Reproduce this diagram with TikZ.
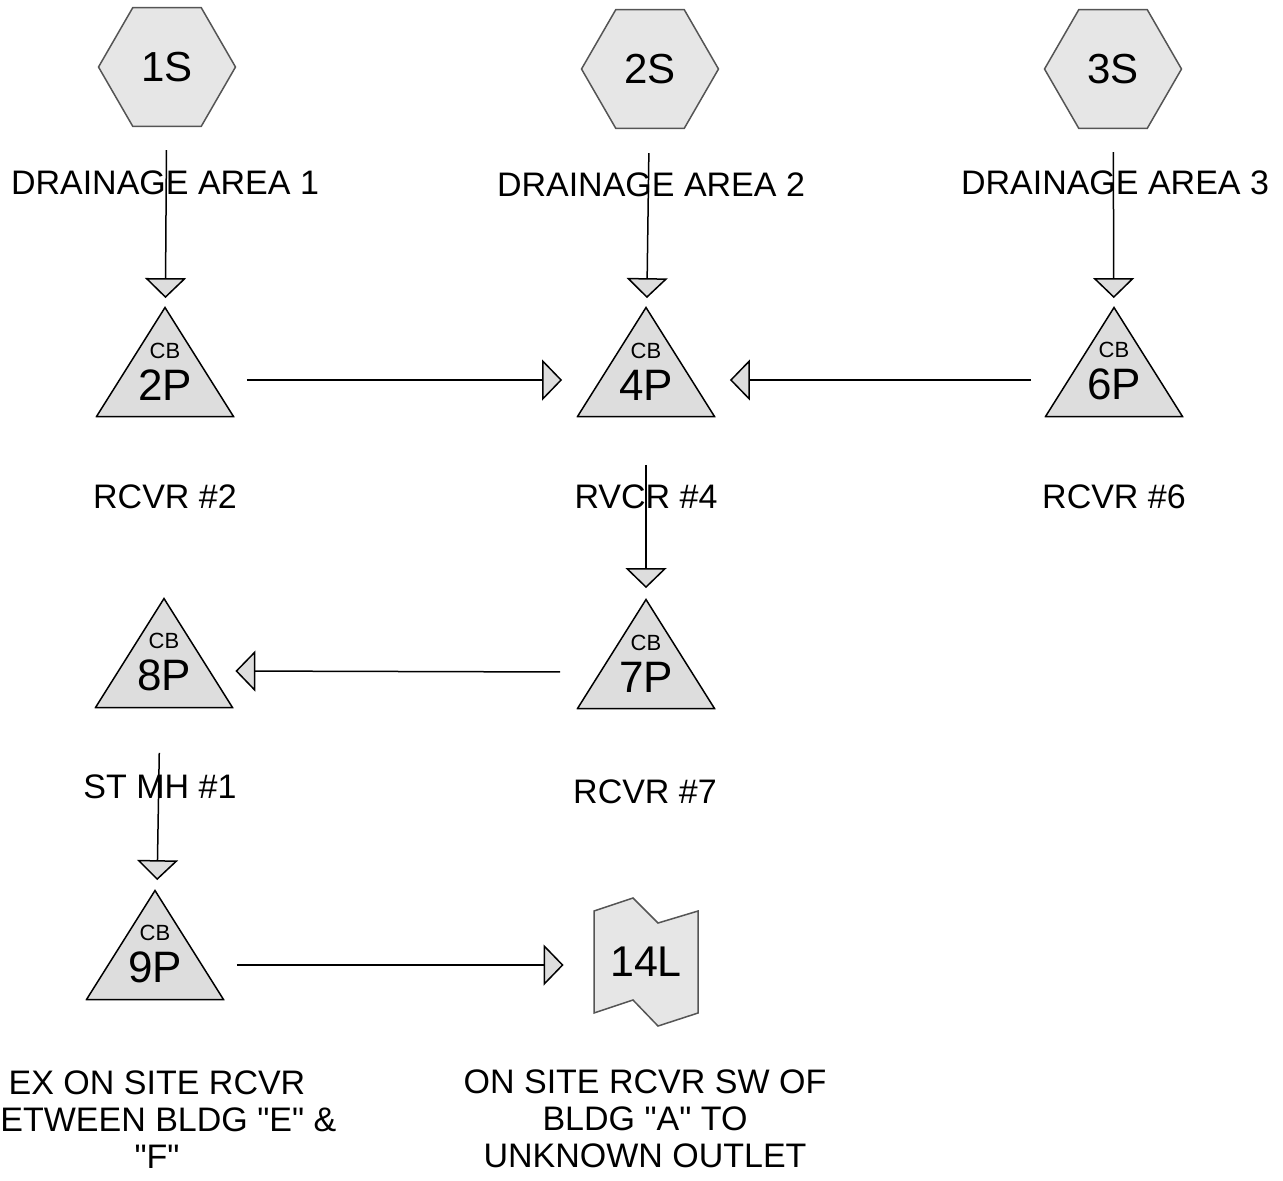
\documentclass[tikz,border=0pt]{standalone}
\usepackage{fontspec}
\setmainfont{Liberation Sans}[Ligatures=TeXOff]
\usetikzlibrary{shapes.geometric,arrows.meta}

\definecolor{shapefill}{HTML}{E6E6E6}
\definecolor{trifill}{HTML}{DDDDDD}
\definecolor{shapeline}{HTML}{555555}
\newcommand{\cb}{\rule{0pt}{17pt}{\fontsize{11}{12}\selectfont CB}\\}

\begin{document}
\begin{tikzpicture}[x=0.5pt, y=-0.5pt, >={Triangle[length=10pt,width=20.5pt,fill=trifill]}]
\tikzstyle{sub} = [regular polygon, regular polygon sides=6, draw=shapeline, line width=0.75pt, fill=shapefill, minimum size=68.5pt, inner sep=0pt, font=\fontsize{21}{24}\selectfont]
\tikzstyle{pond} = [minimum width=69.5pt, minimum height=55.5pt, inner sep=0pt, align=center, font=\fontsize{22}{21}\selectfont,
  path picture={\draw[line width=0.75pt, fill=trifill] ([shift={(0.5pt,0.5pt)}]path picture bounding box.south west) -- ([yshift=-0.5pt]path picture bounding box.north) -- ([shift={(-0.5pt,0.5pt)}]path picture bounding box.south east) -- cycle;}]
\tikzstyle{outlet} = [minimum width=53pt, minimum height=65pt, inner sep=0pt, font=\fontsize{21.5}{24}\selectfont,
  path picture={\draw[draw=shapeline, line width=0.75pt, fill=shapefill]
    ([shift={(-26pt,25.5pt)}]path picture bounding box.center) -- ([shift={(-6.5pt,32pt)}]path picture bounding box.center)
    -- ([shift={(6pt,19.5pt)}]path picture bounding box.center) -- ([shift={(26pt,25.5pt)}]path picture bounding box.center)
    -- ([shift={(26pt,-25.5pt)}]path picture bounding box.center) -- ([shift={(6pt,-32pt)}]path picture bounding box.center)
    -- ([shift={(-6.5pt,-19pt)}]path picture bounding box.center) -- ([shift={(-26pt,-25.5pt)}]path picture bounding box.center) -- cycle;}]
\tikzstyle{note} = [font=\fontsize{17}{18.5}\selectfont, align=center]
\tikzstyle{line} = [draw, ->, line width=0.75pt]

\useasboundingbox (0,0) rectangle (1283,1180);

% subcatchments
\node [sub] (S1) at (167,67) {1S};
\node [sub] (S2) at (650,69) {2S};
\node [sub] (S3) at (1113,69) {3S};
\node [note] (D1) at (165,183) {DRAINAGE AREA 1};
\node [note] (D2) at (651,185) {DRAINAGE AREA 2};
\node [note] (D3) at (1115,183) {DRAINAGE AREA 3};

% ponds
\node [pond] (P2) at (165,362) {\cb 2P};
\node [pond] (P4) at (646,362) {\cb 4P};
\node [pond] (P6) at (1114,362) {\cb 6P};
\node [note] (R2) at (165,497) {RCVR \#2};
\node [note] (R4) at (646,497) {RVCR \#4};
\node [note] (R6) at (1114,497) {RCVR \#6};
\node [pond] (P7) at (646,654) {\cb 7P};
\node [pond] (P8) at (164,653) {\cb 8P};
\node [note] (M1) at (160,787) {ST MH \#1};
\node [note] (R7) at (645,792) {RCVR \#7};
\node [pond] (P9) at (155,945) {\cb 9P};
\node [outlet] (L14) at (646,962) {14L};
\node [note] (R9) at (157,1120) {EX ON SITE RCVR\\BETWEEN BLDG "E" \&\\"F"};
\node [note] (O14) at (645,1119) {ON SITE RCVR SW OF\\BLDG "A" TO\\UNKNOWN OUTLET};

% links
\path [line, shorten <=11.5pt, shorten >=4pt] (S1) -- (P2);
\path [line, shorten <=12pt, shorten >=4pt] (S2) -- (P4);
\path [line, shorten <=11.5pt, shorten >=4pt] (S3) -- (P6);
\path [line, shorten <=6pt, shorten >=7pt] ([yshift=-9pt]P2.east) -- ([yshift=-9pt]P4.west);
\path [line, shorten <=6.5pt, shorten >=7pt] ([yshift=-9pt]P6.west) -- ([yshift=-9pt]P4.east);
\path [line, shorten <=23.5pt, shorten >=5pt] (P4) -- (P7);
\path [line, shorten <=8pt, shorten >=0.75pt] ([yshift=-9pt]P7.west) -- ([yshift=-9pt]P8.east);
\path [line, shorten <=22pt, shorten >=4.5pt] ([xshift=-2pt]P8.south) -- ([xshift=1pt]P9.north);
\path [line, shorten <=6pt, shorten >=14.5pt] ([yshift=-10pt]P9.east) -- ([yshift=-1.5pt]L14.west);
\end{tikzpicture}
\end{document}
